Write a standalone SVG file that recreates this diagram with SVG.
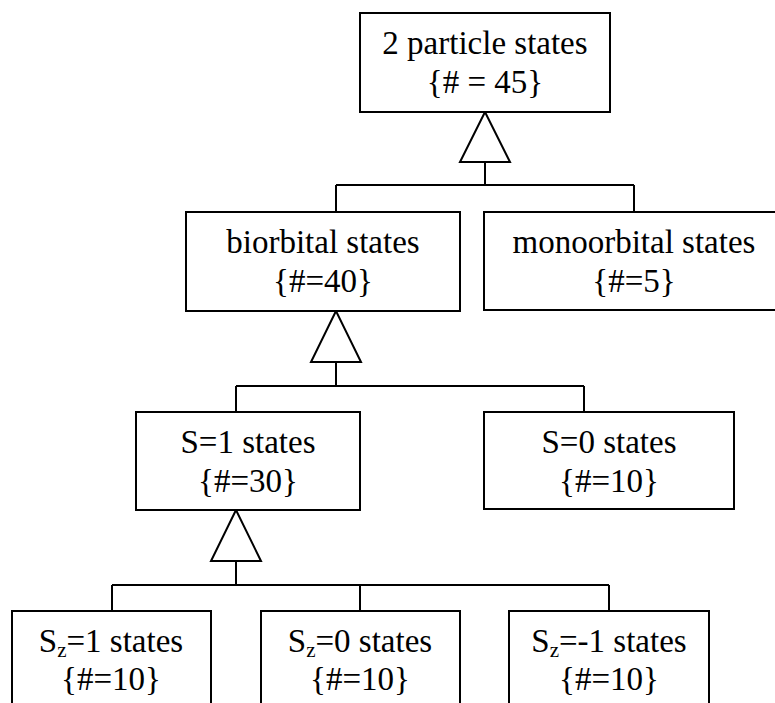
<svg xmlns="http://www.w3.org/2000/svg" width="775" height="703" viewBox="0 0 775 703">
<style>
.box{fill:#fff;stroke:#000;stroke-width:2}
.ln{fill:none;stroke:#000;stroke-width:2}
.tri{fill:#fff;stroke:#000;stroke-width:2;stroke-linejoin:miter}
.sub{font-size:21px}
</style>
<rect width="775" height="703" fill="#fff"/>
<g id="connectors">
<path class="ln" d="M485,162 V185 M336,185 H634 M336,185 V212 M634,185 V212"/>
<polygon class="tri" points="485,112 460,162 510,162"/>
<path class="ln" d="M336,362 V386 M236,386 H584 M236,386 V412 M584,386 V412"/>
<polygon class="tri" points="336,311 311,362 361,362"/>
<path class="ln" d="M236,561 V585 M112,585 H609 M112,585 V611 M360,585 V611 M609,585 V611"/>
<polygon class="tri" points="236,510 211,561 261,561"/>
</g>
<g font-family="Liberation Serif, Times New Roman, Times, Tinos, Noto Serif, DejaVu Serif, FreeSerif, serif" font-size="33" fill="#000" text-anchor="middle">
<g id="n-2particle">
<rect class="box" x="360" y="13" width="250" height="99"/>
<text x="485" y="54">2 particle states</text>
<text x="485" y="93">{# = 45}</text>
</g>
<g id="n-biorbital">
<rect class="box" x="186" y="212" width="274" height="99"/>
<text x="323" y="253">biorbital states</text>
<text x="323" y="292">{#=40}</text>
</g>
<g id="n-monoorbital">
<rect class="box" x="484" y="212" width="300" height="98"/>
<text x="634" y="253">monoorbital states</text>
<text x="634" y="292">{#=5}</text>
</g>
<g id="n-s1">
<rect class="box" x="136" y="412" width="224" height="98"/>
<text x="248" y="453">S=1 states</text>
<text x="248" y="492">{#=30}</text>
</g>
<g id="n-s0">
<rect class="box" x="484" y="412" width="250" height="97"/>
<text x="609" y="453">S=0 states</text>
<text x="609" y="492">{#=10}</text>
</g>
<g id="n-sz1">
<rect class="box" x="12" y="611" width="199" height="100"/>
<text x="111" y="652">S<tspan class="sub" dy="5">z</tspan><tspan dy="-5">=1 states</tspan></text>
<text x="111" y="690">{#=10}</text>
</g>
<g id="n-sz0">
<rect class="box" x="261" y="611" width="199" height="100"/>
<text x="360" y="652">S<tspan class="sub" dy="5">z</tspan><tspan dy="-5">=0 states</tspan></text>
<text x="360" y="690">{#=10}</text>
</g>
<g id="n-szm1">
<rect class="box" x="509" y="611" width="200" height="100"/>
<text x="609" y="652">S<tspan class="sub" dy="5">z</tspan><tspan dy="-5">=-1 states</tspan></text>
<text x="609" y="690">{#=10}</text>
</g>
</g>
</svg>
